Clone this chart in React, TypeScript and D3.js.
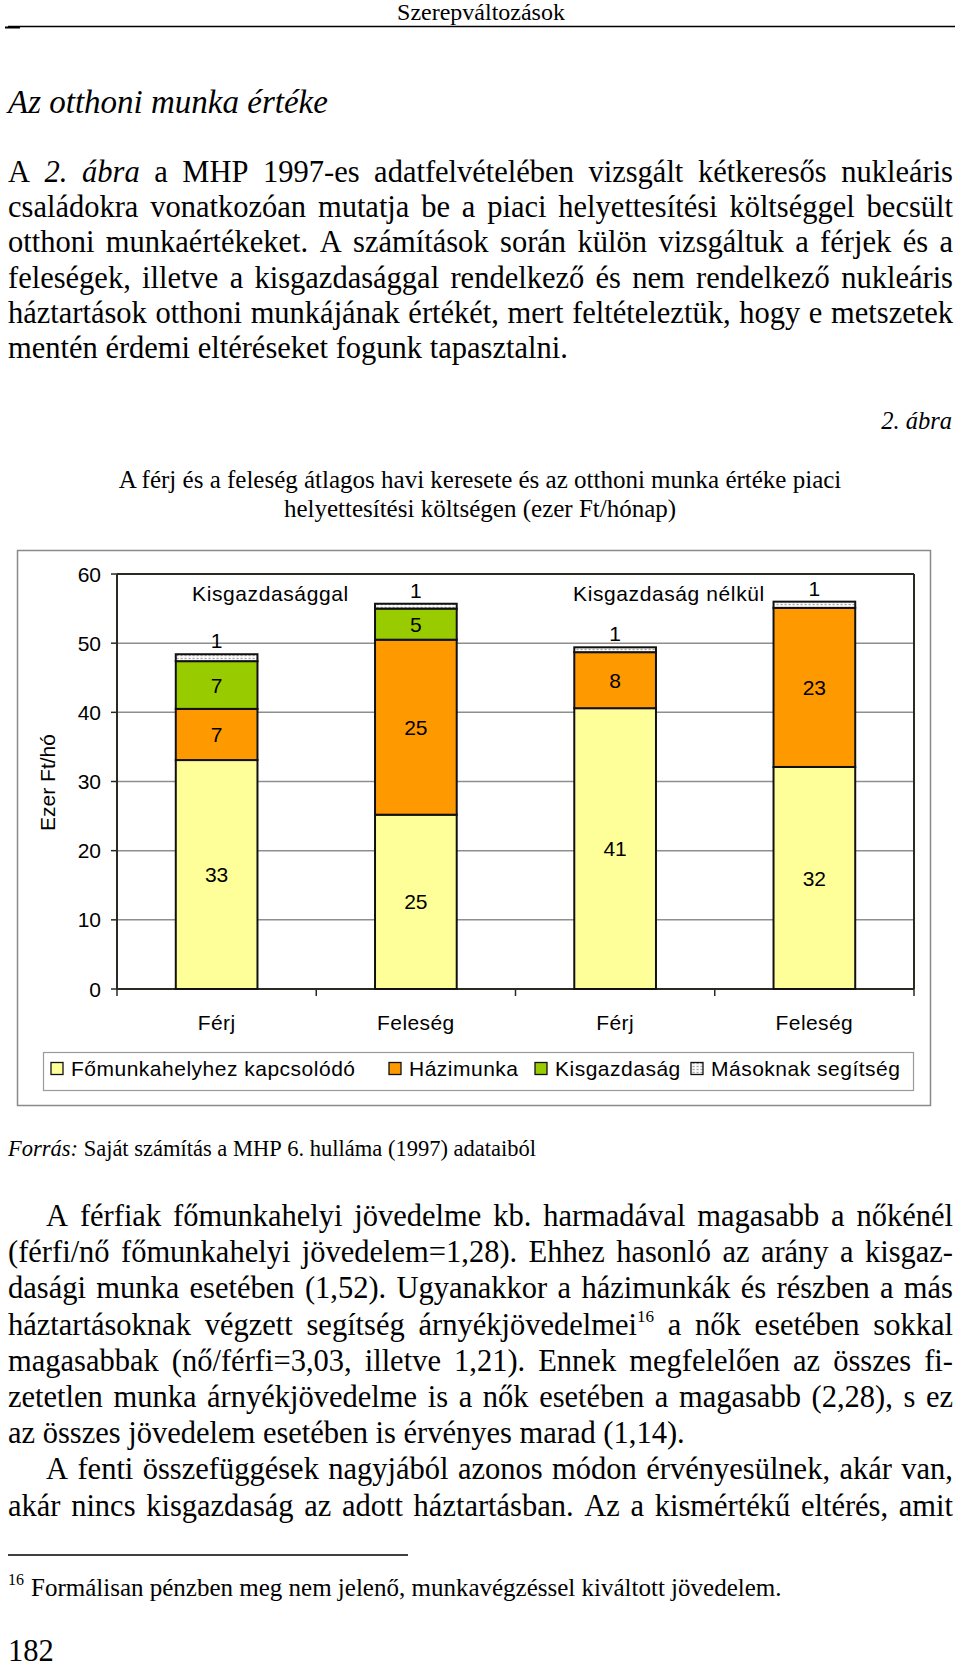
import * as d3 from 'd3';

// chart values (ezer Ft/hó)
const categories = ['Férj', 'Feleség', 'Férj', 'Feleség'];
const groupLabels = ['Kisgazdasággal', 'Kisgazdaság nélkül'];
const groupFirstBar = [0, 2];
const seriesNames = ['Főmunkahelyhez kapcsolódó', 'Házimunka', 'Kisgazdaság', 'Másoknak segítség'];
const fomunkahely = [33.1, 25.2, 40.6, 32.1];
const hazimunka = [7.4, 25.3, 8.1, 23.0];
const kisgazdasag = [6.9, 4.5, 0, 0];
const masoknak = [1.0, 0.7, 0.7, 0.9];
const yTicks = [0, 10, 20, 30, 40, 50, 60];

// page text
const header = 'Szerepváltozások';
const heading = 'Az otthoni munka értéke';
const para1 = [
  'A *2. *ábra a MHP 1997-es adatfelvételében vizsgált kétkeresős nukleáris',
  'családokra vonatkozóan mutatja be a piaci helyettesítési költséggel becsült',
  'otthoni munkaértékeket. A számítások során külön vizsgáltuk a férjek és a',
  'feleségek, illetve a kisgazdasággal rendelkező és nem rendelkező nukleáris',
  'háztartások otthoni munkájának értékét, mert feltételeztük, hogy e metszetek',
  'mentén érdemi eltéréseket fogunk tapasztalni.',
];
const figNo = '2. ábra';
const titleLines = [
  'A férj és a feleség átlagos havi keresete és az otthoni munka értéke piaci',
  'helyettesítési költségen (ezer Ft/hónap)',
];
const source = '*Forrás: Saját számítás a MHP 6. hulláma (1997) adataiból';
const para2 = [
  'A férfiak főmunkahelyi jövedelme kb. harmadával magasabb a nőkénél',
  '(férfi/nő főmunkahelyi jövedelem=1,28). Ehhez hasonló az arány a kisgaz-',
  'dasági munka esetében (1,52). Ugyanakkor a házimunkák és részben a más',
  'háztartásoknak végzett segítség árnyékjövedelmei^16 a nők esetében sokkal',
  'magasabbak (nő/férfi=3,03, illetve 1,21). Ennek megfelelően az összes fi-',
  'zetetlen munka árnyékjövedelme is a nők esetében a magasabb (2,28), s ez',
  'az összes jövedelem esetében is érvényes marad (1,14).',
  'A fenti összefüggések nagyjából azonos módon érvényesülnek, akár van,',
  'akár nincs kisgazdaság az adott háztartásban. Az a kismértékű eltérés, amit',
];
const para2Indent = [true, false, false, false, false, false, false, true, false];
const para2Justify = [true, true, true, true, true, true, false, true, true];
const footnote = 'Formálisan pénzben meg nem jelenő, munkavégzéssel kiváltott jövedelem.';
const pageNo = '182';

const SERIF = '"Liberation Serif", "Times New Roman", serif';
const SANS = '"Liberation Sans", Arial, sans-serif';
const colors = ['#FFFF99', '#FF9900', '#99CC00', 'url(#dots)'];

let ctx: CanvasRenderingContext2D | null = null;
function textWidth(t: string, size: number, italic = false) {
  if (!ctx) ctx = document.createElement('canvas').getContext('2d');
  ctx!.font = `${italic ? 'italic ' : ''}${size}px ${SERIF}`;
  return ctx!.measureText(t).width;
}

// one line of body text, words placed one by one (justified or not)
function TextLine({ text, x0, x1, y, size, justify }: any) {
  const words = text.split(' ').map((w: string) => {
    const italic = w.startsWith('*');
    const raw = italic ? w.slice(1) : w;
    const [t, sup] = raw.split('^');
    return { t, sup, italic };
  });
  const supSize = size * 0.56;
  const widths = words.map((w: any) => textWidth(w.t, size, w.italic) + (w.sup ? textWidth(w.sup, supSize) : 0));
  const total = d3.sum(widths);
  const gap = justify && words.length > 1 ? (x1 - x0 - total) / (words.length - 1) : textWidth(' ', size);
  let x = x0;
  return (
    <g>
      {words.map((w: any, k: number) => {
        const el = (
          <text key={k} x={x} y={y} fontSize={size} fontStyle={w.italic ? 'italic' : 'normal'}>
            {w.t}
            {w.sup && (
              <tspan fontSize={supSize} fontStyle="normal" dy={-size * 0.4}>
                {w.sup}
              </tspan>
            )}
          </text>
        );
        x += widths[k] + gap;
        return el;
      })}
    </g>
  );
}

function Chart() {
  const x = d3.scaleBand<number>().domain(d3.range(categories.length)).range([117, 914]).paddingInner(0.59).paddingOuter(0.295);
  const y = d3.scaleLinear().domain([0, 60]).range([989, 574]);
  const [x0, x1] = x.range();
  const bounds = d3.range(categories.length + 1).map(i => x0 + x.step() * i);

  const rows = categories.map((c, i) => ({ i, a: fomunkahely[i], b: hazimunka[i], c: kisgazdasag[i], d: masoknak[i] }));
  const stacked = d3.stack<any>().keys(['a', 'b', 'c', 'd'])(rows);
  const dark = '#2a2a22';

  return (
    <g fontFamily={SANS} fontSize={21}>
      <defs>
        <pattern id="dots" width={4} height={3} patternUnits="userSpaceOnUse">
          <rect width={4} height={3} fill="#fff" />
          <rect x={0.5} y={0.8} width={2.2} height={1.4} fill="#a8a8a8" />
        </pattern>
      </defs>
      <rect x={17.5} y={550.5} width={913} height={555} fill="#fff" stroke="#8a8a8a" strokeWidth={1.5} />

      {yTicks.filter(t => t > 0 && t < 60).map(t => (
        <line key={t} x1={x0} x2={x1} y1={y(t)} y2={y(t)} stroke="#8e8e8e" strokeWidth={1.5} />
      ))}
      <line x1={x0} x2={x1} y1={y(60)} y2={y(60)} stroke={dark} strokeWidth={2} />
      <line x1={x1} x2={x1} y1={y(60)} y2={y(0)} stroke={dark} strokeWidth={2} />
      <line x1={x0} x2={x0} y1={y(60)} y2={y(0)} stroke={dark} strokeWidth={2} />
      <line x1={x0} x2={x1} y1={y(0)} y2={y(0)} stroke={dark} strokeWidth={2} />

      {yTicks.map(t => (
        <g key={t}>
          <line x1={x0 - 6} x2={x0} y1={y(t)} y2={y(t)} stroke={dark} strokeWidth={1.5} />
          <text x={101} y={y(t)} dy="0.36em" textAnchor="end">{t}</text>
        </g>
      ))}
      {bounds.map((b, i) => (
        <line key={i} x1={b} x2={b} y1={y(0)} y2={y(0) + 7} stroke={dark} strokeWidth={1.5} />
      ))}

      <text transform="translate(55,782.5) rotate(-90)" textAnchor="middle">Ezer Ft/hó</text>

      {stacked.map((s, si) => (
        <g key={si}>
          {s.map((d, i) =>
            d[1] - d[0] > 0 ? (
              <rect key={i} x={x(i)} y={y(d[1])} width={x.bandwidth()} height={y(d[0]) - y(d[1])}
                fill={colors[si]} stroke="#111" strokeWidth={2} />
            ) : null,
          )}
        </g>
      ))}

      {stacked.map((s, si) =>
        s.map((d, i) => {
          const v = d[1] - d[0];
          if (v <= 0) return null;
          const cx = (x(i) as number) + x.bandwidth() / 2;
          if (si === stacked.length - 1) {
            return <text key={`${si}-${i}`} x={cx} y={y(d[1]) - 6} textAnchor="middle">{Math.round(v)}</text>;
          }
          return <text key={`${si}-${i}`} x={cx} y={(y(d[0]) + y(d[1])) / 2} dy="0.36em" textAnchor="middle">{Math.round(v)}</text>;
        }),
      )}

      {groupLabels.map((g, k) => (
        <text key={g} x={(x(groupFirstBar[k]) as number) + x.bandwidth() / 2 + x.step() * 0.27} y={601} textAnchor="middle" letterSpacing={0.6}>{g}</text>
      ))}

      {categories.map((c, i) => (
        <text key={i} x={(x(i) as number) + x.bandwidth() / 2} y={1030} textAnchor="middle" letterSpacing={0.4}>{c}</text>
      ))}

      <rect x={43.5} y={1052.5} width={870} height={38} fill="#fff" stroke="#9a9a9a" strokeWidth={1.2} />
      {seriesNames.map((n, k) => {
        const lx = [51, 389, 535, 691][k];
        return (
          <g key={n}>
            <rect x={lx} y={1062.5} width={12} height={12} fill={colors[k]} stroke="#111" strokeWidth={1.3} />
            <text x={lx + 20} y={1075.5} letterSpacing={0.5}>{n}</text>
          </g>
        );
      })}
    </g>
  );
}

export default function App() {
  const left = 8;
  const right = 953;
  return (
    <svg width={960} height={1669} viewBox="0 0 960 1669" style={{ position: 'absolute', left: 0, top: 0, background: '#fff' }}
      fontFamily={SERIF} fill="#000">
      <rect width={960} height={1669} fill="#fff" />
      <text x={481} y={20} fontSize={24} textAnchor="middle">{header}</text>
      <line x1={left} x2={955} y1={26.5} y2={26.5} stroke="#000" strokeWidth={1.5} />
      <line x1={5} x2={20} y1={27.5} y2={27.5} stroke="#000" strokeWidth={2} />

      <text x={left} y={113} fontSize={33} fontStyle="italic">{heading}</text>

      {para1.map((l, i) => (
        <TextLine key={i} text={l} x0={left} x1={right} y={182 + i * 35.2} size={30.5} justify={i < para1.length - 1} />
      ))}

      <text x={952} y={429} fontSize={24.5} fontStyle="italic" textAnchor="end">{figNo}</text>
      {titleLines.map((l, i) => (
        <text key={i} x={480} y={487.5 + i * 29.5} fontSize={25} textAnchor="middle">{l}</text>
      ))}

      <Chart />

      <TextLine text={source} x0={left} x1={right} y={1156} size={22.5} justify={false} />

      {para2.map((l, i) => (
        <TextLine key={i} text={l} x0={para2Indent[i] ? 46 : left} x1={right} y={1226 + i * 36.2} size={30.5} justify={para2Justify[i]} />
      ))}

      <line x1={left} x2={408} y1={1555} y2={1555} stroke="#000" strokeWidth={1.5} />
      <text x={left} y={1585} fontSize={16}>16</text>
      <text x={31} y={1596} fontSize={25}>{footnote}</text>

      <text x={left} y={1661} fontSize={30.5}>{pageNo}</text>
    </svg>
  );
}
